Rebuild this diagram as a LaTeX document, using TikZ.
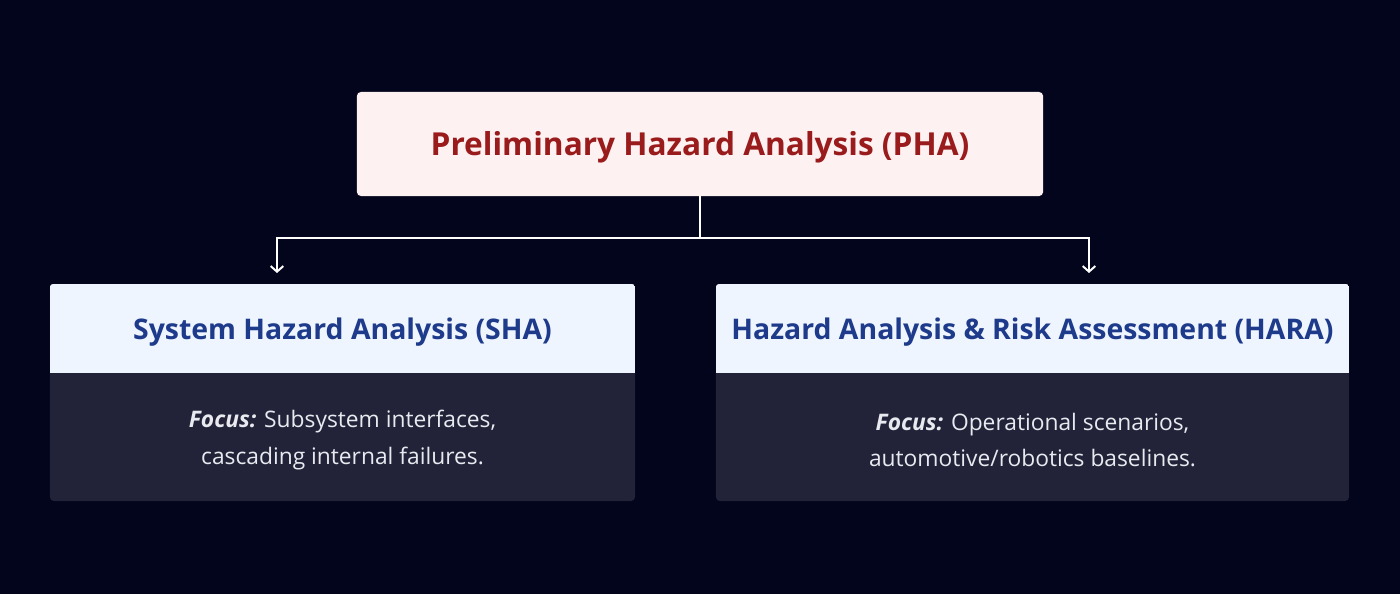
\documentclass[tikz,border=0pt]{standalone}
\usepackage{fontspec}
\setmainfont{Open Sans}
\usetikzlibrary{positioning,arrows.meta}

\definecolor{fond}{HTML}{03051C}
\definecolor{rosepale}{HTML}{FEF1F2}
\definecolor{rougefonce}{HTML}{991B1B}
\definecolor{bleupale}{HTML}{EEF5FF}
\definecolor{bleufonce}{HTML}{1E3A8A}
\definecolor{ardoise}{HTML}{222339}
\definecolor{textclair}{HTML}{E8EAF0}

\tikzset{titre/.style = {fill = rosepale, text = rougefonce, rounded corners = 0.1cm,
                         minimum width = 17.15cm, minimum height = 2.6cm, text depth = 0.04cm,
                         font = \fontsize{22.5}{26}\selectfont\bfseries},
         carte/.style = {fill = ardoise, rounded corners = 0.1cm, inner sep = 0pt,
                         minimum width = #1, minimum height = 5.425cm},
         carte/.default = 14.625cm,
         entete/.style = {text = bleufonce, inner sep = 0pt, minimum height = 2.225cm,
                          font = \fontsize{20.2}{24}\selectfont\bfseries},
         detail/.style = {text = textclair, align = center,
                          font = \fontsize{16.2}{26}\selectfont},
         fleche/.style = {draw = white, line width = 1.4pt,
                          -{Straight Barb[length = 4pt, width = 9pt]}}
        }

\begin{document}
\begin{tikzpicture}[x = 0.025cm, y = -0.025cm]
  \fill[fond] (0, 0) rectangle (1400, 594);
  \useasboundingbox (0, 0) rectangle (1400, 594);

  \node[titre] (pha) at (700, 144) {Preliminary Hazard Analysis (PHA)};

  % les deux cartes
  \node[carte] (sha) at (342.5, 392.5) {};
  \node[carte = 15.825cm] (hara) at (1032.5, 392.5) {};
  \foreach \c in {sha, hara}
    {\begin{scope}
       \clip[rounded corners = 0.1cm] (\c.south west) rectangle (\c.north east);
       \fill[bleupale] (\c.north west) rectangle ([yshift = -2.225cm]\c.north east);
     \end{scope}};

  \node[entete, below = 0.1cm of sha.north] (shatitre) {System Hazard Analysis (SHA)};
  \node[entete, below = 0.1cm of hara.north] (haratitre) {Hazard Analysis \& Risk Assessment (HARA)};
  \node[detail] (shafocus) at (342.5, 440)
    {\textbf{\textit{Focus:}} Subsystem interfaces,\\ cascading internal failures.};
  \node[detail] (harafocus) at (1032.5, 440)
    {\textbf{\textit{Focus:}} Operational scenarios,\\ automotive/robotics baselines.};

  % connecteurs
  \coordinate (jonction) at (700, 238);
  \coordinate (versha) at (277, 273);
  \coordinate (vershara) at (1089, 273);
  \draw[white, line width = 1.4pt] (pha.south) -- (jonction);
  \draw[fleche] (jonction) -| (versha);
  \draw[fleche] (jonction) -| (vershara);
\end{tikzpicture}
\end{document}
